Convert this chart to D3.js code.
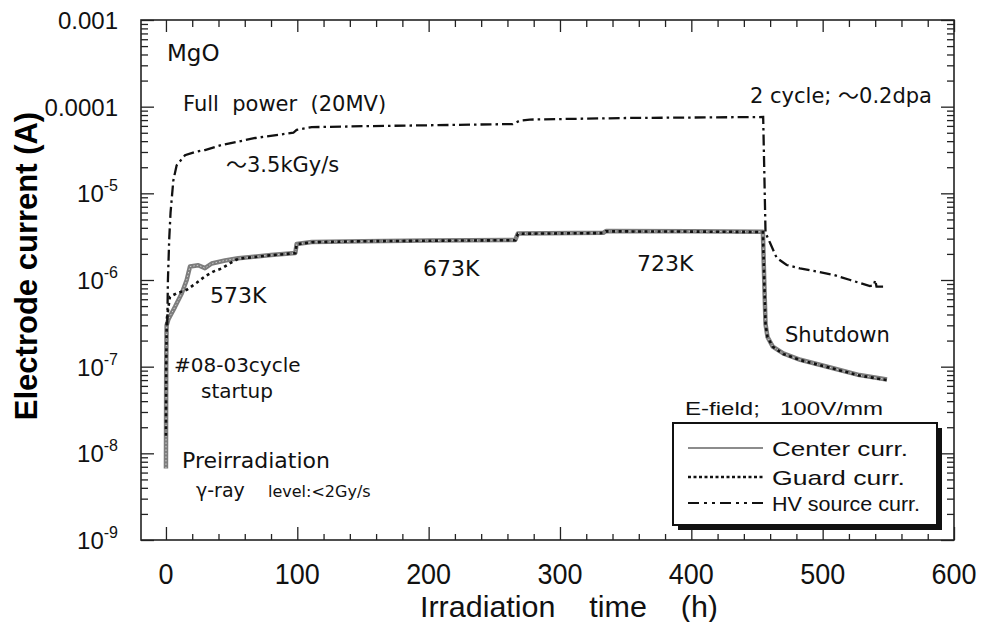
<!DOCTYPE html>
<html>
<head>
<meta charset="utf-8">
<script src="https://cdn.jsdelivr.net/npm/d3@7"></script>
<style>
  body { margin: 0; background: #fff; }
  svg { display: block; }
  .ann { font-family: "DejaVu Sans", "Noto Sans CJK JP", sans-serif; fill: #111; }
  .ytl { font-family: "Liberation Sans", Arial, sans-serif; font-size: 24px; fill: #111; }
  .xtl { font-family: "Liberation Sans", Arial, sans-serif; font-size: 29px; fill: #111; }
  .leg { font-family: "Liberation Sans", Arial, sans-serif; fill: #111; }
</style>
</head>
<body>
<svg width="982" height="622"></svg>
<script>
// data: [time (h), current (A)]
var centerCurr = [
  [0, 6.7e-9], [0.2, 1e-7], [0.5, 3e-7], [1.8, 3.5e-7], [3, 3.8e-7], [6.9, 4.9e-7],
  [12, 7e-7], [15.8, 1.0e-6], [18.3, 1.43e-6], [24.6, 1.48e-6], [29.7, 1.37e-6],
  [34.8, 1.55e-6], [45, 1.68e-6], [55, 1.78e-6], [80, 1.94e-6], [98.5, 2.05e-6],
  [99.5, 2.6e-6], [111, 2.75e-6], [150, 2.8e-6], [200, 2.85e-6], [266, 2.9e-6],
  [268, 3.45e-6], [333, 3.5e-6], [335, 3.67e-6], [400, 3.65e-6], [454.5, 3.6e-6],
  [455.5, 1e-6], [456.5, 3.1e-7], [458, 2.2e-7], [462, 1.7e-7], [470, 1.42e-7],
  [483, 1.2e-7], [508, 9.6e-8], [528, 8.0e-8], [549, 7.1e-8]
];
var guardCurr = [
  [0, 1.6e-8], [0.2, 1e-7], [0.6, 3.5e-7], [3, 6.4e-7], [8, 7e-7], [15.8, 7.7e-7],
  [23.4, 9.3e-7], [29.7, 1.1e-6], [36, 1.25e-6], [42.4, 1.36e-6], [50, 1.6e-6],
  [55, 1.76e-6], [80, 1.93e-6], [98.5, 2.04e-6], [99.5, 2.58e-6], [111, 2.73e-6],
  [150, 2.8e-6], [200, 2.84e-6], [266, 2.88e-6], [268, 3.42e-6], [333, 3.48e-6],
  [335, 3.64e-6], [400, 3.62e-6], [454.5, 3.58e-6], [455.5, 1e-6], [456.5, 3.1e-7],
  [458, 2.2e-7], [462, 1.7e-7], [470, 1.4e-7], [483, 1.19e-7], [508, 9.5e-8],
  [528, 7.9e-8], [549, 7.0e-8]
];
var hvCurr = [
  [1, 3e-7], [1.5, 1e-6], [2.5, 3e-6], [3.5, 6e-6], [5, 1.1e-5], [5.6, 1.4e-5],
  [8.1, 2.1e-5], [14.5, 2.75e-5], [22, 3.0e-5], [29.7, 3.16e-5], [42, 3.6e-5],
  [68, 4.35e-5], [97, 5.0e-5], [99.5, 5.4e-5], [111, 5.8e-5], [150, 5.95e-5],
  [200, 6.1e-5], [264, 6.3e-5], [269.5, 6.9e-5], [277, 7.1e-5], [350, 7.4e-5],
  [454.7, 7.6e-5], [455.5, 2e-5], [456.5, 3.5e-6], [460, 2.67e-6], [465, 1.8e-6],
  [472.6, 1.49e-6], [482.7, 1.36e-6], [508, 1.15e-6], [521, 1.0e-6], [536, 8.5e-7],
  [539, 8.7e-7], [540, 1.0e-6], [541, 8.4e-7], [546, 8.4e-7]
];

var xMajor = [0, 100, 200, 300, 400, 500, 600];
var xMinor = d3.range(20, 600, 20).filter(function (v) { return v % 100 != 0; });
var yMajor = [1e-9, 1e-8, 1e-7, 1e-6, 1e-5, 1e-4, 1e-3];
var yTickLabels = [["10", "-9"], ["10", "-8"], ["10", "-7"], ["10", "-6"], ["10", "-5"], ["0.0001", ""], ["0.001", ""]];
var yMinor = [];
yMajor.slice(0, -1).forEach(function (d) {
  for (var k = 2; k <= 9; k++) yMinor.push(d * k);
});

var svg = d3.select("svg");

var x = d3.scaleLinear().domain([-19, 600]).range([141, 954]);
var y = d3.scaleLog().domain([1e-9, 1e-3]).range([540, 20]);

// ticks, all pointing inwards
function ticks(axis, tr) {
  var g = svg.append("g").attr("transform", tr).call(axis);
  g.select(".domain").remove();
  g.selectAll("line").attr("stroke", "#222").attr("stroke-width", 1.3);
  return g;
}
ticks(d3.axisBottom(x).tickValues(xMajor).tickSize(-13).tickFormat(""), "translate(0,540)");
ticks(d3.axisBottom(x).tickValues(xMinor).tickSize(-6).tickFormat(""), "translate(0,540)");
ticks(d3.axisTop(x).tickValues(xMajor).tickSize(-12).tickFormat(""), "translate(0,20)");
ticks(d3.axisTop(x).tickValues(xMinor).tickSize(-7).tickFormat(""), "translate(0,20)");
ticks(d3.axisLeft(y).tickValues(yMajor).tickSize(-13).tickFormat(""), "translate(141,0)");
ticks(d3.axisLeft(y).tickValues(yMinor).tickSize(-7).tickFormat(""), "translate(141,0)");
ticks(d3.axisRight(y).tickValues(yMajor).tickSize(-13).tickFormat(""), "translate(954,0)");
ticks(d3.axisRight(y).tickValues(yMinor).tickSize(-7).tickFormat(""), "translate(954,0)");

// frame
svg.append("rect")
  .attr("x", x.range()[0]).attr("y", y.range()[1])
  .attr("width", x.range()[1] - x.range()[0])
  .attr("height", y.range()[0] - y.range()[1])
  .attr("fill", "none").attr("stroke", "#222").attr("stroke-width", 1.6);

// tick labels (condensed look in the original)
svg.selectAll(".xtl").data(xMajor).enter().append("text")
  .attr("class", "xtl")
  .attr("x", d => x(d)).attr("y", 584)
  .attr("text-anchor", "middle")
  .attr("textLength", d => String(d).length * 15)
  .attr("lengthAdjust", "spacingAndGlyphs")
  .text(d => d);

var yl = svg.selectAll(".ytl").data(yMajor).enter().append("text")
  .attr("class", "ytl")
  .attr("x", 118).attr("y", d => y(d) + 9)
  .attr("text-anchor", "end");
yl.append("tspan").text((d, i) => yTickLabels[i][0]);
yl.append("tspan")
  .attr("dy", -11).attr("font-size", 16)
  .text((d, i) => yTickLabels[i][1]);

// axis titles
svg.append("text")
  .attr("transform", "translate(37,266) rotate(-90)")
  .attr("text-anchor", "middle")
  .style("font-family", "'Liberation Sans', Arial, sans-serif")
  .style("font-weight", "bold").style("font-size", "31px")
  .text("Electrode current (A)");

svg.append("text")
  .attr("class", "xtl")
  .attr("x", 420).attr("y", 617)
  .attr("textLength", 298).attr("lengthAdjust", "spacingAndGlyphs")
  .style("white-space", "pre")
  .text("Irradiation    time    (h)");

// curves
var line = d3.line().x(d => x(d[0])).y(d => y(d[1]));

svg.append("path").datum(centerCurr)
  .attr("d", line).attr("fill", "none")
  .attr("stroke", "#7d7d7d").attr("stroke-width", 4.5).attr("stroke-linejoin", "round");
svg.append("path").datum(centerCurr)
  .attr("d", line).attr("fill", "none")
  .attr("stroke", "#d0d0d0").attr("stroke-width", 1).attr("stroke-dasharray", "1.5,2");

svg.append("path").datum(guardCurr)
  .attr("d", line).attr("fill", "none")
  .attr("stroke", "#111").attr("stroke-width", 2.6).attr("stroke-dasharray", "3,3.5");

svg.append("path").datum(hvCurr)
  .attr("d", line).attr("fill", "none")
  .attr("stroke", "#111").attr("stroke-width", 2.3).attr("stroke-dasharray", "11,4,2.5,4");

// annotations
function ann(tx, xx, yy, size) {
  return svg.append("text").attr("class", "ann")
    .attr("x", xx).attr("y", yy)
    .style("font-size", size + "px")
    .style("white-space", "pre")
    .text(tx);
}
ann("MgO", 167, 61, 23);
ann("Full  power  (20MV)", 183, 111, 21);
ann("〜3.5kGy/s", 226, 172, 21);
ann("2 cycle; 〜0.2dpa", 750, 103, 21);
ann("573K", 210, 303, 22);
ann("673K", 423, 276, 22);
ann("723K", 637, 271, 22);
ann("Shutdown", 785, 342, 21);
ann("#08-03cycle", 174, 372, 20);
ann("startup", 201, 398, 20);
ann("Preirradiation", 182, 468, 22);
ann("γ-ray", 196, 497, 19);
ann("level:<2Gy/s", 268, 497, 16);

// legend
svg.append("text").attr("class", "leg")
  .attr("x", 685).attr("y", 415)
  .style("font-size", "19px").style("white-space", "pre")
  .attr("textLength", 198).attr("lengthAdjust", "spacingAndGlyphs")
  .text("E-field;   100V/mm");

svg.append("rect").attr("x", 678).attr("y", 428).attr("width", 264).attr("height", 102).attr("fill", "#111");
svg.append("rect").attr("x", 673).attr("y", 423).attr("width", 264).attr("height", 102)
  .attr("fill", "#fff").attr("stroke", "#111").attr("stroke-width", 2);

var legItems = [
  { name: "Center curr.", len: 136, stroke: "#8c8c8c", w: 2.2, dash: null },
  { name: "Guard curr.", len: 133, stroke: "#111", w: 2.4, dash: "3,2.5" },
  { name: "HV source curr.", len: 148, stroke: "#111", w: 2, dash: "11,5,3,5,3,5" }
];
var legRows = [448, 477, 503];
legItems.forEach(function (it, i) {
  svg.append("line")
    .attr("x1", 688).attr("x2", 763)
    .attr("y1", legRows[i]).attr("y2", legRows[i])
    .attr("stroke", it.stroke).attr("stroke-width", it.w)
    .attr("stroke-dasharray", it.dash);
  svg.append("text").attr("class", "leg")
    .attr("x", 772).attr("y", legRows[i] + 8)
    .style("font-size", "21px")
    .attr("textLength", it.len).attr("lengthAdjust", "spacingAndGlyphs")
    .text(it.name);
});
</script>
</body>
</html>
